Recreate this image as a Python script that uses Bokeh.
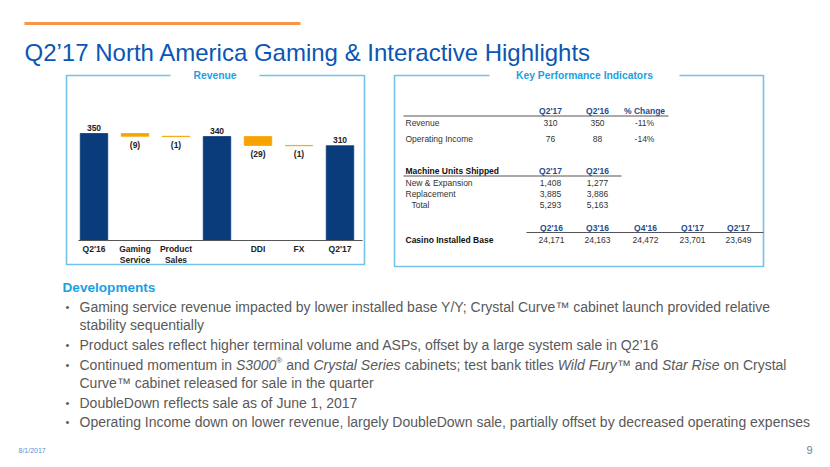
from bokeh.plotting import figure
from bokeh.models import Range1d
from bokeh.core.properties import value
from bokeh.embed import file_html
from bokeh.resources import INLINE

# ---------------- data ----------------
title = "Q2’17 North America Gaming & Interactive Highlights"

wf_title = "Revenue"
wf_categories = ["Q2'16", "Gaming\nService", "Product\nSales", "", "DDI", "FX", "Q2'17"]
wf_values = [350, -9, -1, 340, -29, -1, 310]
wf_is_total = [True, False, False, True, False, False, True]

kpi_title = "Key Performance Indicators"
kpi_headers = ["Q2'17", "Q2'16", "% Change"]
kpi_rows = ["Revenue", "Operating Income"]
kpi_q217 = ["310", "76"]
kpi_q216 = ["350", "88"]
kpi_change = ["-11%", "-14%"]

units_title = "Machine Units Shipped"
units_headers = ["Q2'17", "Q2'16"]
units_rows = ["New & Expansion", "Replacement", "Total"]
units_q217 = ["1,408", "3,885", "5,293"]
units_q216 = ["1,277", "3,886", "5,163"]

base_title = "Casino Installed Base"
base_quarters = ["Q2'16", "Q3'16", "Q4'16", "Q1'17", "Q2'17"]
base_values = ["24,171", "24,163", "24,472", "23,701", "23,649"]

dev_title = "Developments"
# each line: (is_bullet, [(text, style, superscript)])
dev_lines = [
    (True, [("Gaming service revenue impacted by lower installed base Y/Y; Crystal Curve™ cabinet launch provided relative", "normal", False)]),
    (False, [("stability sequentially", "normal", False)]),
    (True, [("Product sales reflect higher terminal volume and ASPs, offset by a large system sale in Q2’16", "normal", False)]),
    (True, [("Continued momentum in ", "normal", False), ("S3000", "italic", False), ("®", "normal", True),
            (" and ", "normal", False), ("Crystal Series", "italic", False),
            (" cabinets; test bank titles ", "normal", False), ("Wild Fury", "italic", False),
            ("™ and ", "normal", False), ("Star Rise", "italic", False), (" on Crystal", "normal", False)]),
    (False, [("Curve™ cabinet released for sale in the quarter", "normal", False)]),
    (True, [("DoubleDown reflects sale as of June 1, 2017", "normal", False)]),
    (True, [("Operating Income down on lower revenue, largely DoubleDown sale, partially offset by decreased operating expenses", "normal", False)]),
]
footer_date = "8/1/2017"
page_number = "9"

# ---------------- styles ----------------
W, H = 830, 467
FONT = value("Liberation Sans")
TITLE_BLUE = "#0b56b3"
ORANGE_LINE = "#f79646"
BOX_BLUE = "#72c3ec"
HEAD_BLUE = "#1a9fe3"
NAVY = "#0a3b7a"
ORANGE = "#f7a400"
TBL_BLUE = "#1f4b8e"
TBL_TEXT = "#333333"
BODY_GRAY = "#595959"

# Arial / Liberation Sans advance widths (1/1000 em)
_AW = {}
for ch, w in zip("abcdefghijklmnopqrstuvwxyz",
                 [556, 556, 500, 556, 556, 278, 556, 556, 222, 222, 500, 222, 833, 556, 556, 556, 556, 333, 500, 278, 556, 500, 722, 500, 500, 500]):
    _AW[ch] = w
for ch, w in zip("ABCDEFGHIJKLMNOPQRSTUVWXYZ",
                 [667, 667, 722, 722, 667, 611, 778, 722, 278, 500, 667, 556, 833, 722, 778, 667, 778, 722, 667, 611, 722, 667, 944, 667, 667, 611]):
    _AW[ch] = w
for ch in "0123456789":
    _AW[ch] = 556
_AW.update({" ": 278, ",": 278, ".": 278, ";": 278, ":": 278, "'": 191, "’": 222, "(": 333, ")": 333,
            "-": 333, "/": 278, "&": 667, "™": 1000, "®": 737, "%": 889})


def text_width(s, size):
    return sum(_AW.get(c, 556) for c in s) * size / 1000.0


p = figure(width=W, height=H, x_range=Range1d(0, W), y_range=Range1d(H, 0),
           x_axis_type=None, y_axis_type=None, toolbar_location=None,
           output_backend="svg", min_border=0, outline_line_color=None,
           background_fill_color="white", border_fill_color="white")


def txt(x, y, t, size, color, style="normal", align="left", baseline="middle", **kw):
    p.text(x=[x], y=[y], text=[t], text_font=FONT, text_font_size=f"{size}px",
           text_color=color, text_font_style=style, text_align=align,
           text_baseline=baseline, **kw)


# ---------------- header ----------------
p.segment(x0=[24], y0=[23], x1=[300], y1=[23], line_color=ORANGE_LINE, line_width=3)
txt(24, 52, title, 24, TITLE_BLUE, baseline="alphabetic")

# ---------------- boxes ----------------
def box(x0, x1, y0, y1, g0, g1, label):
    p.multi_line(xs=[[g0, x0, x0, x1, x1, g1]], ys=[[y0, y0, y1, y1, y0, y0]],
                 line_color=BOX_BLUE, line_width=1.6)
    txt((g0 + g1) / 2, y0, label, 10.3, HEAD_BLUE, style="bold", align="center")

box(66, 364, 75, 264, 170, 259, wf_title)
box(394, 763, 75, 266, 489, 679, kpi_title)

# ---------------- waterfall (own scales) ----------------
WF_X0, WF_STEP = 93.5, 41.0
WF_ZERO_PY, WF_PPU = 240.0, 107.0 / 350.0
p.extra_x_ranges = {"wf": Range1d(-WF_X0 / WF_STEP, (W - WF_X0) / WF_STEP)}
p.extra_y_ranges = {"wf": Range1d(-(H - WF_ZERO_PY) / WF_PPU, WF_ZERO_PY / WF_PPU)}

idx, tops, bottoms, colors, labels = [], [], [], [], []
running = 0
for i, (v, tot) in enumerate(zip(wf_values, wf_is_total)):
    idx.append(i)
    if tot:
        bottoms.append(0); tops.append(v); running = v
        colors.append(NAVY); labels.append(str(v))
    else:
        tops.append(running); bottoms.append(running + v); running += v
        colors.append(ORANGE); labels.append(f"({abs(v)})")

p.vbar(x=idx, top=tops, bottom=bottoms, width=0.67, fill_color=colors, line_color=colors,
       line_width=0.8, x_range_name="wf", y_range_name="wf")

p.segment(x0=[-0.38], y0=[0], x1=[6.55], y1=[0], line_color="#555555", line_width=1.2,
          x_range_name="wf", y_range_name="wf")

tot_i = [i for i in idx if wf_is_total[i]]
dlt_i = [i for i in idx if not wf_is_total[i]]
p.text(x=tot_i, y=[tops[i] for i in tot_i], text=[labels[i] for i in tot_i],
       text_font=FONT, text_font_size="8.5px", text_font_style="bold", text_color="#222222",
       text_align="center", text_baseline="bottom", y_offset=-3,
       x_range_name="wf", y_range_name="wf")
p.text(x=dlt_i, y=[bottoms[i] for i in dlt_i], text=[labels[i] for i in dlt_i],
       text_font=FONT, text_font_size="8.5px", text_font_style="bold", text_color="#222222",
       text_align="center", text_baseline="top", y_offset=3.5,
       x_range_name="wf", y_range_name="wf")
p.text(x=idx, y=[0] * len(idx), text=wf_categories,
       text_font=FONT, text_font_size="8.5px", text_font_style="bold", text_color="#222222",
       text_align="center", text_baseline="top", y_offset=3, text_line_height=1.15,
       x_range_name="wf", y_range_name="wf")

# ---------------- KPI tables ----------------
TS = 8.5
LBL_X = 405
kpi_x = [550, 597, 644]
# table 1
for x, h in zip(kpi_x, kpi_headers):
    txt(x, 110, h, TS, TBL_BLUE, style="bold", align="center")
p.segment(x0=[403], y0=[115.5], x1=[668], y1=[115.5], line_color="#555555", line_width=1)
for y, r, a, b, c in zip([122, 138], kpi_rows, kpi_q217, kpi_q216, kpi_change):
    txt(LBL_X, y, r, TS, TBL_TEXT)
    txt(kpi_x[0], y, a, TS, TBL_TEXT, align="center")
    txt(kpi_x[1], y, b, TS, TBL_TEXT, align="center")
    txt(kpi_x[2], y, c, TS, TBL_TEXT, align="center")
# table 2
txt(LBL_X, 170.5, units_title, TS, "#111111", style="bold")
for x, h in zip(kpi_x[:2], units_headers):
    txt(x, 170.5, h, TS, TBL_BLUE, style="bold", align="center")
p.segment(x0=[403], y0=[175.5], x1=[621], y1=[175.5], line_color="#555555", line_width=1)
for k, (y, r, a, b) in enumerate(zip([182.5, 193.5, 204.3], units_rows, units_q217, units_q216)):
    txt(LBL_X + (6 if k == 2 else 0), y, r, TS, TBL_TEXT)
    txt(kpi_x[0], y, a, TS, TBL_TEXT, align="center")
    txt(kpi_x[1], y, b, TS, TBL_TEXT, align="center")
# table 3
base_x = [551, 597, 645, 692, 738]
for x, q in zip(base_x, base_quarters):
    txt(x, 227, q, TS, TBL_BLUE, style="bold", align="center")
p.segment(x0=[526], y0=[232], x1=[763], y1=[232], line_color="#555555", line_width=1)
txt(LBL_X, 239.5, base_title, TS, "#111111", style="bold")
for x, v in zip(base_x, base_values):
    txt(x, 239.5, v, TS, TBL_TEXT, align="center")

# ---------------- developments ----------------
txt(62, 287, dev_title, 13.6, HEAD_BLUE, style="bold")
BS = 14
line_y = [306, 324, 344, 364, 382, 402, 421]
for y, (bullet, segs) in zip(line_y, dev_lines):
    if bullet:
        txt(65, y, "•", 11, BODY_GRAY)
    x = 79
    for s, style, sup in segs:
        size = 8 if sup else BS
        yy = y - 4 if sup else y
        lead = s[:len(s) - len(s.lstrip(" "))]
        core = s.strip(" ")
        if core:
            txt(x + text_width(lead, size), yy, core, size, BODY_GRAY, style=style)
        x += text_width(s, size)

# ---------------- footer ----------------
txt(18, 450, footer_date, 7, "#5b8fd6")
txt(812, 449, page_number, 11, "#6a7f9b", align="right")

open("out.html", "w").write(file_html(p, INLINE))
